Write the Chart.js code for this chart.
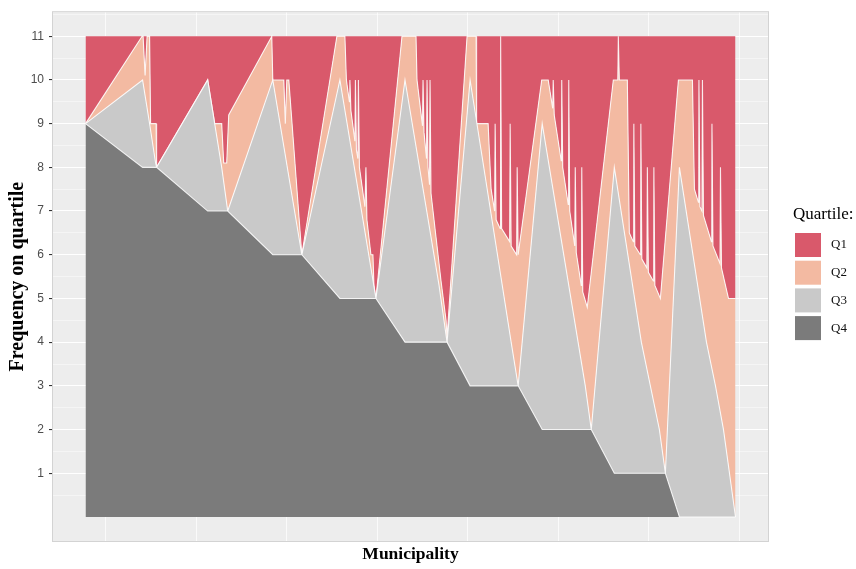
<!DOCTYPE html>
<html>
<head>
<meta charset="utf-8">
<script src="https://cdn.jsdelivr.net/npm/chart.js@4/dist/chart.umd.min.js"></script>
<style>
  html, body { margin: 0; padding: 0; background: #fff; }
  #wrap { width: 856px; height: 569px; }
</style>
</head>
<body>
<div id="wrap"><canvas id="chart" width="856" height="569"></canvas></div>
<script>
// municipalities are ranked along x (0 = first, 649 = last)
// each list is the upper edge of a stacked band: [municipality rank, cumulative frequency]
const quartiles = ['Q1', 'Q2', 'Q3', 'Q4'];
const quartileColors = ['#D9596B', '#F3BAA2', '#C9C9C9', '#7B7B7B'];
const yTicks = [1, 2, 3, 4, 5, 6, 7, 8, 9, 10, 11];
const periods = 11;

const q4Edge = [
  [0, 9], [57, 8], [71, 8], [122, 7], [142, 7], [187, 6], [216, 6], [254, 5], [290, 5],
  [319, 4], [361, 4], [384, 3], [432, 3], [456, 2], [505, 2], [528, 1], [579, 1], [593, 0], [649, 0]
];

const q3Edge = [
  [0, 9], [57, 10], [64, 9], [70, 8.1], [71, 8], [122, 10], [136, 8], [142, 7], [187, 10], [216, 6],
  [254, 10], [290, 5], [319, 10], [353, 5.3], [361, 4], [384, 10], [425, 4], [432, 3], [456, 9],
  [499, 3], [505, 2], [528, 8], [555, 4], [573, 2], [579, 1], [593, 8], [620, 4], [629, 3], [637, 2], [649, 0]
];

const q2Edge = [
  [0, 9], [56.5, 11], [57.5, 11], [59.5, 10.1], [61.5, 11], [64, 11], [65, 9], [70.5, 9], [71, 8],
  [122, 10], [129, 9], [136, 9], [138, 8.1], [141, 8.1], [143, 9.2], [186, 11],
  [187, 10], [198, 10], [199.5, 9], [201, 10], [203, 10], [216, 6],
  [251, 11], [259, 11], [260.5, 10], [263.5, 9.5], [264, 10], [265, 9.3], [269, 8.6], [269.5, 10],
  [270.5, 8.4], [272, 8.2], [272.5, 10], [273.5, 8], [279, 7.1], [280, 8], [281, 6.8], [285, 6],
  [287, 6], [288, 5.3], [290, 5],
  [316, 11], [330, 11], [331, 10], [336.5, 8.95], [337, 10], [338, 8.8], [340.5, 8.2], [341, 10],
  [342, 8], [343.5, 7.6], [344, 10], [345, 7.4], [350, 6.4], [355, 5.4], [360, 4.5], [361, 4.1],
  [381, 11], [390, 11], [390.5, 9], [402, 9], [405, 7.5], [408.5, 7], [409, 9], [410, 6.8], [414, 6.6],
  [414.5, 11], [415.5, 6.6], [423.5, 6.3], [424, 9], [425, 6.2], [430.5, 6], [431, 8], [432, 6],
  [455.5, 10], [462, 10], [466.5, 9.35], [467, 10], [468, 9.2], [475, 8.15], [475.5, 10], [476.5, 8],
  [482, 7.15], [482.5, 10], [483.5, 7], [488.5, 6.2], [489, 8], [490, 6.05], [495, 5.3], [495.5, 8],
  [496.5, 5.15], [501, 4.8],
  [527, 10], [531.5, 10], [532, 11], [533, 10], [541, 10], [543, 6.5], [547, 6.3], [547.5, 9],
  [548.5, 6.2], [554, 6], [554.5, 9], [555.5, 5.9], [560.5, 5.7], [561, 8], [562, 5.6], [567, 5.4],
  [567.5, 8], [568.5, 5.3], [574, 5],
  [592, 10], [606, 10], [608, 7.5], [612, 7.2], [612.5, 10], [613.5, 7.1], [615.5, 7], [616, 10],
  [617, 6.9], [625, 6.3], [625.5, 9], [626.5, 6.2], [633.5, 5.8], [634, 8], [635, 5.7], [642, 5], [649, 5]
];

const q1Edge = [[0, periods], [649, periods]];

const xFirst = 0, xLast = 649;
const xPad = (xLast - xFirst) * 0.05;
const yPad = periods * 0.05;
const xBreakStart = 20, xBreakStep = 90.4;

function toPoints(list) {
  return list.map(p => ({ x: p[0], y: p[1] }));
}

const edge = 'rgba(255,255,255,0.85)';
const serif = '"Liberation Serif", "Times New Roman", serif';
const sans = '"Liberation Sans", Arial, sans-serif';

const panelPlugin = {
  id: 'panel',
  beforeDraw(chart) {
    const { ctx, chartArea: a } = chart;
    ctx.save();
    ctx.fillStyle = '#EDEDED';
    ctx.fillRect(a.left, a.top, a.right - a.left, a.bottom - a.top);
    ctx.restore();
  },
  afterDraw(chart) {
    const { ctx, chartArea: a } = chart;
    ctx.save();
    ctx.strokeStyle = '#D3D3D3';
    ctx.lineWidth = 1;
    ctx.strokeRect(a.left - 0.5, a.top - 0.5, a.right - a.left + 1, a.bottom - a.top + 1);

    // legend
    const lx = a.right + 27;
    let ly = 207;
    ctx.fillStyle = '#000';
    ctx.font = '17px ' + serif;
    ctx.textBaseline = 'alphabetic';
    ctx.fillText('Quartile:', lx - 2, ly + 12);
    ly = 233;
    quartiles.forEach((q, i) => {
      ctx.fillStyle = quartileColors[i];
      ctx.fillRect(lx, ly, 26, 24);
      ctx.fillStyle = '#111';
      ctx.font = '13px ' + serif;
      ctx.textBaseline = 'middle';
      ctx.fillText(q, lx + 36, ly + 12);
      ly += 27.7;
    });
    ctx.restore();
  }
};

new Chart(document.getElementById('chart'), {
  type: 'line',
  data: {
    datasets: [
      { label: 'Q4', data: toPoints(q4Edge), backgroundColor: quartileColors[3], borderColor: edge, borderWidth: 1.1, fill: 'origin' },
      { label: 'Q3', data: toPoints(q3Edge), backgroundColor: quartileColors[2], borderColor: edge, borderWidth: 1.1, fill: '-1' },
      { label: 'Q2', data: toPoints(q2Edge), backgroundColor: quartileColors[1], borderColor: edge, borderWidth: 1.1, fill: '-1' },
      { label: 'Q1', data: toPoints(q1Edge), backgroundColor: quartileColors[0], borderWidth: 0, fill: '-1' }
    ]
  },
  options: {
    responsive: false,
    animation: false,
    devicePixelRatio: 1,
    layout: { padding: { top: 7, right: 88, left: 0, bottom: 0 } },
    elements: { point: { radius: 0 }, line: { tension: 0 } },
    plugins: {
      legend: { display: false },
      tooltip: { enabled: false }
    },
    scales: {
      x: {
        type: 'linear',
        min: xFirst - xPad,
        max: xLast + xPad,
        afterBuildTicks: (scale) => {
          const t = [];
          for (let v = xBreakStart; v <= xLast + xPad; v += xBreakStep) t.push({ value: v });
          scale.ticks = t;
        },
        afterFit: (scale) => { scale.height = 28; },
        ticks: { display: false },
        grid: { color: 'rgba(255,255,255,0.9)', lineWidth: 0.8, drawTicks: false },
        border: { display: false },
        title: {
          display: true,
          text: 'Municipality',
          color: '#000',
          font: { family: serif, size: 17.5, weight: 'bold' },
          padding: { top: 0, bottom: 4 }
        }
      },
      y: {
        type: 'linear',
        min: -yPad,
        max: periods + yPad,
        afterBuildTicks: (scale) => {
          const t = [];
          yTicks.forEach(v => { t.push({ value: v - 0.5 }); t.push({ value: v }); });
          t.push({ value: periods + 0.5 });
          scale.ticks = t;
        },
        afterFit: (scale) => { scale.width = 53; },
        ticks: {
          autoSkip: false,
          padding: 5,
          color: '#4D4D4D',
          font: { family: sans, size: 12 },
          callback: (v) => (Number.isInteger(v) ? String(v) : '')
        },
        grid: {
          color: (c) => (c.tick && Number.isInteger(c.tick.value) ? '#FFFFFF' : 'rgba(255,255,255,0.75)'),
          lineWidth: (c) => (c.tick && Number.isInteger(c.tick.value) ? 1.1 : 0.6),
          tickColor: (c) => (c.tick && Number.isInteger(c.tick.value) ? '#333333' : 'rgba(0,0,0,0)'),
          tickLength: 4
        },
        border: { display: false },
        title: {
          display: true,
          text: 'Frequency on quartile',
          color: '#000',
          font: { family: serif, size: 20, weight: 'bold' },
          padding: { top: 6, bottom: 0 }
        }
      }
    }
  },
  plugins: [panelPlugin]
});
</script>
</body>
</html>
